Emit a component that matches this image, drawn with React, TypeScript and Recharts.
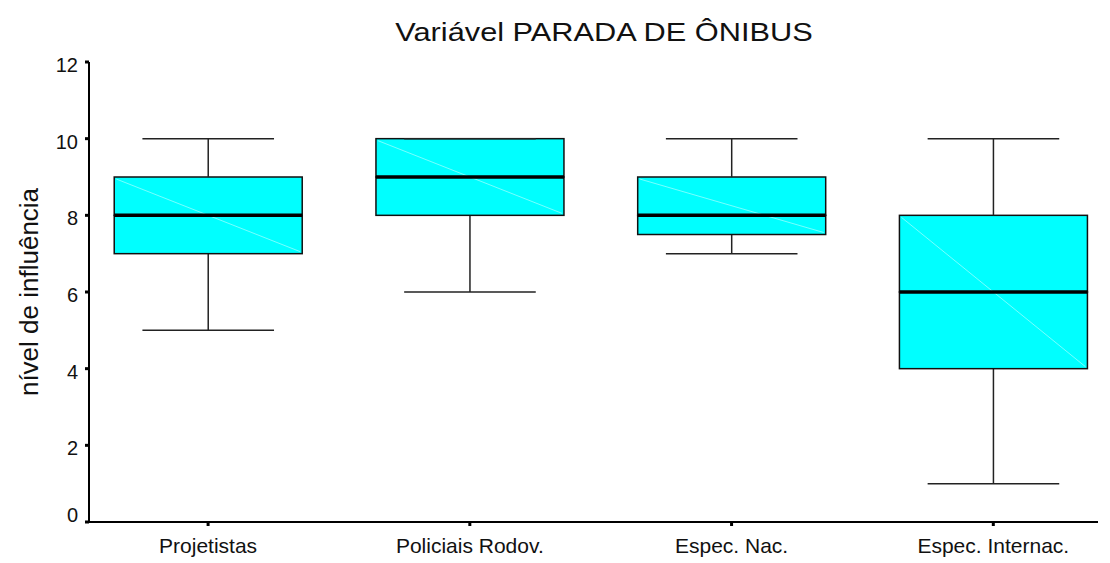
import { ComposedChart, Bar, XAxis, YAxis } from 'recharts';

const groups = ['Projetistas', 'Policiais Rodov.', 'Espec. Nac.', 'Espec. Internac.'];
const mins = [5, 6, 7, 1];
const q1s = [7, 8, 7.5, 4];
const medians = [8, 9, 8, 6];
const q3s = [9, 10, 9, 8];
const maxs = [10, 10, 10, 10];
const yTicks = [0, 2, 4, 6, 8, 10, 12];

const data = groups.map((name, i) => ({
  pos: i + 1,
  name,
  base: mins[i],
  lowWhisker: q1s[i] - mins[i],
  lowBox: medians[i] - q1s[i],
  highBox: q3s[i] - medians[i],
  highWhisker: maxs[i] - q3s[i],
}));

const FONT = '"Liberation Sans", Arial, Helvetica, sans-serif';
const BOX_FILL = '#00ffff';

const LowWhisker = (props: any) => {
  const { x, y, width, height } = props;
  const cx = x + width / 2;
  const half = width * 0.35;
  return (
    <g stroke="#222" strokeWidth={1.5}>
      <line x1={cx} y1={y} x2={cx} y2={y + height} />
      <line x1={cx - half} y1={y + height} x2={cx + half} y2={y + height} />
    </g>
  );
};

const HighWhisker = (props: any) => {
  const { x, y, width, height } = props;
  const cx = x + width / 2;
  const half = width * 0.35;
  return (
    <g stroke="#222" strokeWidth={1.5}>
      <line x1={cx} y1={y} x2={cx} y2={y + height} />
      <line x1={cx - half} y1={y} x2={cx + half} y2={y} />
    </g>
  );
};

const LowBox = (props: any) => {
  const { x, y, width, height } = props;
  return <rect x={x} y={y} width={width} height={height} fill={BOX_FILL} stroke="#111" strokeWidth={1.5} />;
};

const HighBox = (props: any) => {
  const { x, y, width, height, payload } = props;
  // faint diagonal across the whole box, like the original render
  const perUnit = payload && payload.highBox ? height / payload.highBox : 0;
  const lowH = payload ? payload.lowBox * perUnit : 0;
  return (
    <g>
      <rect x={x} y={y} width={width} height={height} fill={BOX_FILL} stroke="#111" strokeWidth={1.5} />
      <line x1={x + 2} y1={y + 2} x2={x + width - 2} y2={y + height + lowH - 2} stroke="#c8ffff" strokeWidth={0.6} />
      <line x1={x} y1={y + height} x2={x + width} y2={y + height} stroke="#000" strokeWidth={3.5} />
    </g>
  );
};

const YTick = (props: any) => {
  const { x, y, payload } = props;
  const dy = payload.value === 0 ? -7 : 3;
  return (
    <text x={x} y={y + dy} dy="0.355em" textAnchor="end" fontSize={20} fill="#111" fontFamily={FONT}>
      {payload.value}
    </text>
  );
};

export default function App() {
  return (
    <div style={{ position: 'absolute', left: 0, top: 0, width: 1110, height: 563, background: '#fff', fontFamily: FONT }}>
      <div
        style={{
          position: 'absolute',
          left: 0,
          top: 17,
          width: 1208,
          textAlign: 'center',
          fontSize: 26.5,
          lineHeight: '30px',
          color: '#111',
          transform: 'scaleX(1.16)',
          transformOrigin: '604px 0',
        }}
      >
        Variável PARADA DE ÔNIBUS
      </div>
      <ComposedChart
        width={1110}
        height={563}
        data={data}
        margin={{ top: 62, right: 12, bottom: 0, left: 0 }}
        style={{ position: 'absolute', left: 0, top: 0 }}
      >
        <XAxis
          dataKey="pos"
          type="number"
          domain={[0.545, 4.4]}
          ticks={[1, 2, 3, 4]}
          tickFormatter={(v: number) => groups[v - 1]}
          height={41}
          axisLine={{ stroke: '#000', strokeWidth: 2 }}
          tickLine={{ stroke: '#000', strokeWidth: 3 }}
          tickSize={4}
          tickMargin={12}
          tick={{ fill: '#111', fontSize: 21, fontFamily: FONT }}
          allowDataOverflow
        />
        <YAxis
          type="number"
          domain={[0, 12]}
          ticks={yTicks}
          width={89}
          axisLine={{ stroke: '#000', strokeWidth: 2 }}
          tickLine={{ stroke: '#000', strokeWidth: 3 }}
          tickSize={4}
          tickMargin={7}
          tick={<YTick />}
          label={{
            value: 'nível de influência',
            angle: -90,
            position: 'insideLeft',
            offset: 29,
            style: { textAnchor: 'middle', fontSize: 26, fill: '#111', fontFamily: FONT },
          }}
        />
        <Bar dataKey="base" stackId="b" fill="transparent" barSize={188} isAnimationActive={false} />
        <Bar dataKey="lowWhisker" stackId="b" barSize={188} shape={LowWhisker} isAnimationActive={false} />
        <Bar dataKey="lowBox" stackId="b" barSize={188} shape={LowBox} isAnimationActive={false} />
        <Bar dataKey="highBox" stackId="b" barSize={188} shape={HighBox} isAnimationActive={false} />
        <Bar dataKey="highWhisker" stackId="b" barSize={188} shape={HighWhisker} isAnimationActive={false} />
      </ComposedChart>
    </div>
  );
}
